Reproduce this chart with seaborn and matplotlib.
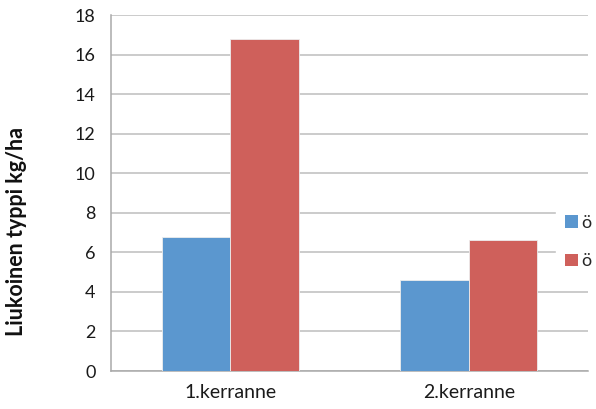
import matplotlib
matplotlib.use("Agg")
import matplotlib.pyplot as plt
import seaborn as sns
import pandas as pd
from matplotlib.patches import Patch

categories = ["1.kerranne", "2.kerranne"]
series_keys = ["s1", "s2"]
legend_labels = ["ö", "ö"]
values_s1 = [6.8, 4.6]
values_s2 = [16.8, 6.6]
y_ticks = [0, 2, 4, 6, 8, 10, 12, 14, 16, 18]
y_label = "Liukoinen typpi kg/ha"
colors = ["#5B97CF", "#CF605B"]

df = pd.DataFrame({
    "cat": categories * 2,
    "series": [series_keys[0]] * 2 + [series_keys[1]] * 2,
    "value": values_s1 + values_s2,
})

sns.set_style("white")
plt.rcParams["font.family"] = ["Lato", "DejaVu Sans"]

fig = plt.figure(figsize=(5.96, 4.09), dpi=100)
ax = fig.add_axes([111/596, (409-371)/409, (588-111)/596, (371-15)/409])

sns.barplot(data=df, x="cat", y="value", hue="series", order=categories,
            hue_order=series_keys, palette=colors, saturation=1, width=0.575, ax=ax,
            edgecolor="#EDEDED", linewidth=0.6, legend=False, zorder=3)

ax.set_xlim(-0.5, 1.5)
ax.set_ylim(0, 18)
ax.set_yticks(y_ticks)
ax.set_yticklabels([str(t) for t in y_ticks], fontsize=13, color="#1a1a1a")
ax.yaxis.grid(True, color="#BDBDBD", linewidth=1.1, zorder=0)
ax.set_axisbelow(True)

for s in ["top", "right"]:
    ax.spines[s].set_visible(False)
for s in ["left", "bottom"]:
    ax.spines[s].set_color("#A9A9A9")
    ax.spines[s].set_linewidth(1.1)

ax.tick_params(axis="y", direction="out", length=6, width=1.1, color="#A9A9A9", pad=5)
ax.set_xticks([0, 1])
ax.set_xticklabels(categories, fontsize=14, color="#1a1a1a")
ax.tick_params(axis="x", which="major", length=0, pad=9)
ax.set_xticks([-0.5, 0.5, 1.5], minor=True)
ax.tick_params(axis="x", which="minor", direction="out", length=26, width=1.1, color="#A9A9A9")

ax.set_xlabel("")
ax.set_ylabel(y_label, fontsize=15.5, fontweight="bold", color="#111111")
ax.yaxis.set_label_coords(-84/477, (371-231)/356)

handles = [Patch(facecolor=c, edgecolor="none") for c in colors]
leg = fig.legend(handles, legend_labels, loc="center left",
                 bbox_to_anchor=(556/596, 1 - 242/409), frameon=True,
                 fontsize=13, handlelength=0.7, handleheight=0.7,
                 handletextpad=0.2, labelspacing=1.25, borderpad=0.5,
                 borderaxespad=0)
leg.get_frame().set_facecolor("white")
leg.get_frame().set_edgecolor("white")
leg.get_frame().set_alpha(1)

fig.savefig("out.png", dpi=100)
